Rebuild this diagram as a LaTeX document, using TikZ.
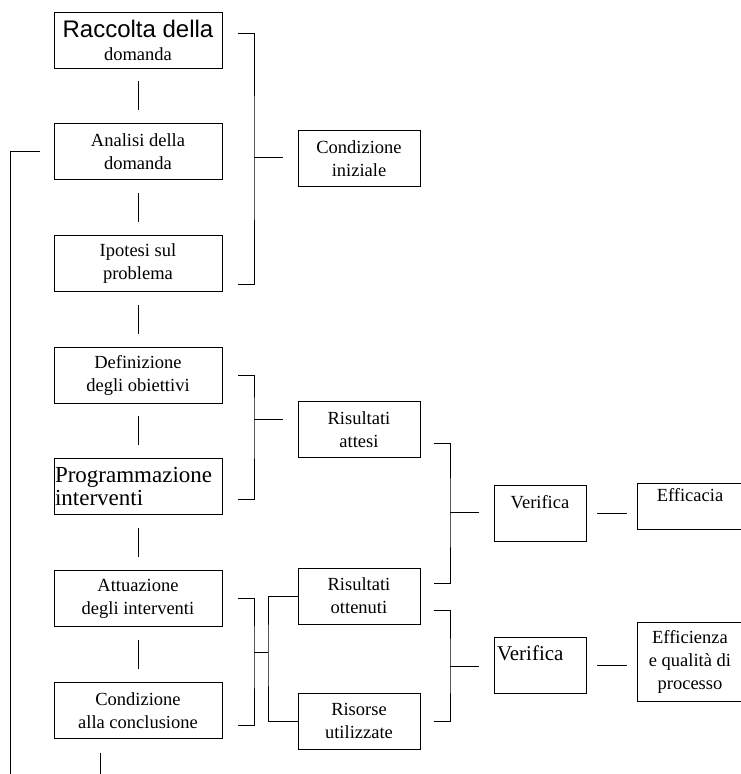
\documentclass[tikz,border=0pt]{standalone}
\usepackage{fontspec}
\setmainfont{Liberation Serif}
\newfontfamily\arialfont{Liberation Sans}
\usetikzlibrary{positioning}

\begin{document}
\begin{tikzpicture}[x=1pt, y=-1pt, line width=.7pt,
  font=\fontsize{18.5}{23}\selectfont,
  box/.style={draw, minimum width=168pt, minimum height=56pt, inner sep=0pt, align=center},
  mid/.style={box, minimum width=122pt},
  ver/.style={box, minimum width=92pt},
  link/.style={shorten <=13pt, shorten >=13pt}]
\useasboundingbox (0,0) rectangle (740,774);
% colonna sinistra
\node[box] (racc) at (138,40) {{\arialfont\fontsize{24}{26}\selectfont Raccolta della}\\domanda};
\node[box, below=55pt of racc] (anal) {Analisi della\\domanda};
\node[box, below=55pt of anal] (ipot) {Ipotesi sul\\problema};
\node[box, below=55pt of ipot] (defi) {Definizione\\degli obiettivi};
\node[box, below=55pt of defi, text width=166pt, inner xsep=1pt, align=left] (prog)
  {\fontsize{23}{31}\selectfont Programmazione\\interventi};
\node[box, below=55pt of prog] (attu) {Attuazione\\degli interventi};
\node[box, below=55pt of attu] (conc) {Condizione\\alla conclusione};
%
\draw[link] (racc) -- (anal);
\draw[link] (anal) -- (ipot);
\draw[link] (ipot) -- (defi);
\draw[link] (defi) -- (prog);
\draw[link] (prog) -- (attu);
\draw[link] (attu) -- (conc);
\coordinate (fb) at (10,774);
\draw ([xshift=-14pt]anal.west) -| (fb);
\coordinate (out) at (100,774);
\draw ([xshift=-38pt,yshift=-14pt]conc.south) -- (out);
% colonna centrale
\node[mid] (cini) at (359,158.5) {Condizione\\iniziale};
\node[mid] (ratt) at (359,429.5) {Risultati\\attesi};
\node[mid] (rott) at (359,596) {Risultati\\ottenuti};
\node[mid] (riso) at (359,721) {Risorse\\utilizzate};
%
\coordinate (j1) at (254,157);
\draw ([xshift=16pt,yshift=7pt]racc.east) -| (j1) |- ([xshift=16pt,yshift=-21pt]ipot.east);
\draw[shorten >=15pt] (j1) -- (j1 -| cini.west);
\coordinate (j2) at (254,419);
\draw ([xshift=16pt]defi.east) -| (j2) |- ([xshift=16pt,yshift=-13pt]prog.east);
\draw[shorten >=15pt] (j2) -- (j2 -| ratt.west);
\coordinate (j3) at (254,652);
\coordinate (j4) at (268,652);
\draw ([xshift=16pt]attu.east) -| (j3) |- ([xshift=16pt,yshift=-15pt]conc.east);
\draw (j3) -- (j4);
\draw (rott.west) -| (j4) |- (riso.west);
% verifiche
\node[ver] (ver1) at (540,513) {Verifica\\\mbox{}};
\node[ver, text width=86pt, inner xsep=3pt, align=left] (ver2) at (540,665)
  {{\fontsize{21}{24}\selectfont Verifica}\\\mbox{}};
\node[box, minimum width=106pt, minimum height=46pt] (effic) at (690,506) {Efficacia\\\mbox{}};
\node[box, minimum width=106pt, minimum height=79pt] (effi2) at (690,661.5)
  {Efficienza\\e qualità di\\processo};
%
\coordinate (j5) at (450,512);
\draw ([xshift=14pt,yshift=-13.5pt]ratt.east) -| (j5) |- ([xshift=14pt,yshift=13pt]rott.east);
\draw[shorten >=15pt] (j5) -- (j5 -| ver1.west);
\coordinate (j6) at (450,666);
\draw ([xshift=14pt,yshift=-14pt]rott.east) -| (j6) |- ([xshift=14pt]riso.east);
\draw[shorten >=15pt] (j6) -- (j6 -| ver2.west);
\draw[shorten <=11pt, shorten >=10pt] (ver1.east) -- (ver1.east -| effic.west);
\draw[shorten <=11pt, shorten >=10pt] (ver2.east) -- (ver2.east -| effi2.west);
\end{tikzpicture}
\end{document}
